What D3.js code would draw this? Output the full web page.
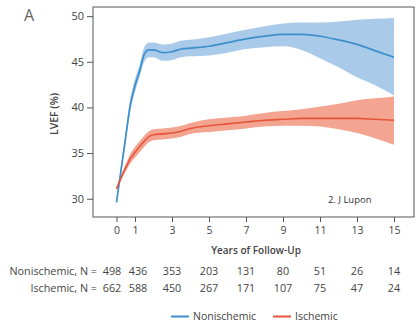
<!DOCTYPE html>
<html>
<head>
<meta charset="utf-8">
<script src="https://cdn.jsdelivr.net/npm/d3@7"></script>
<style>
  html, body { margin: 0; padding: 0; background: #fff; }
  svg { display: block; font-family: "Open Sans", "Noto Sans", sans-serif; }
</style>
</head>
<body>
<svg id="chart" width="418" height="324"></svg>
<script>
// Follow-up years at which the LVEF trajectories are sampled
const years = [0, 0.25, 0.5, 0.75, 1, 1.25, 1.5, 1.75, 2, 2.5, 3, 3.5, 4, 5, 6, 7, 8, 9, 10, 11, 12, 13, 14, 15];

// Nonischemic: mean LVEF and 95% CI bounds
const nonMean  = [29.6, 33.2, 36.8, 40.3, 42.4, 44.0, 45.8, 46.3, 46.3, 46.0, 46.1, 46.4, 46.5, 46.7, 47.1, 47.5, 47.8, 48.0, 48.0, 47.8, 47.4, 46.9, 46.2, 45.5];
const nonUpper = [29.8, 33.6, 37.4, 41.0, 43.1, 44.7, 46.6, 47.1, 47.1, 46.9, 47.0, 47.3, 47.4, 47.7, 48.1, 48.5, 48.9, 49.2, 49.3, 49.3, 49.4, 49.6, 49.7, 49.8];
const nonLower = [29.4, 32.8, 36.2, 39.6, 41.7, 43.3, 45.0, 45.5, 45.5, 45.1, 45.2, 45.5, 45.6, 45.7, 46.0, 46.4, 46.6, 46.7, 46.3, 45.4, 44.4, 43.3, 42.4, 41.3];

// Ischemic: mean LVEF and 95% CI bounds
const ischMean  = [31.1, 32.3, 33.4, 34.4, 35.1, 35.7, 36.3, 36.8, 37.0, 37.1, 37.2, 37.4, 37.7, 38.0, 38.2, 38.4, 38.6, 38.7, 38.8, 38.8, 38.8, 38.8, 38.7, 38.6];
const ischUpper = [31.3, 32.6, 33.8, 34.9, 35.7, 36.3, 36.9, 37.4, 37.6, 37.7, 37.8, 38.0, 38.3, 38.7, 38.9, 39.1, 39.4, 39.6, 39.8, 40.1, 40.4, 40.8, 41.0, 41.2];
const ischLower = [30.9, 32.0, 33.0, 33.9, 34.5, 35.1, 35.7, 36.2, 36.4, 36.5, 36.6, 36.8, 37.1, 37.3, 37.5, 37.7, 37.9, 38.0, 38.0, 37.9, 37.6, 37.2, 36.6, 35.9];

// Axis ticks
const xTicks = [0, 1, 3, 5, 7, 9, 11, 13, 15];
const yTicks = [30, 35, 40, 45, 50];

// Numbers at risk at each x tick
const nonAtRisk  = [498, 436, 353, 203, 131, 80, 51, 26, 14];
const ischAtRisk = [662, 588, 450, 267, 171, 107, 75, 47, 24];

// Series names and colours
const seriesNames = ["Nonischemic", "Ischemic"];
const lineColors = ["#3d8fcb", "#e6553b"];
const bandColors = ["#a9cbe9", "#f3a591"];

const svg = d3.select("#chart");
const plot = { left: 93, right: 414, top: 7, bottom: 217 };

const x = d3.scaleLinear().domain([-1.27, 16.08]).range([plot.left, plot.right]);
const y = d3.scaleLinear().domain([28, 51]).range([plot.bottom, plot.top]);

const curve = d3.curveMonotoneX;

function band(upper, lower) {
  return d3.area()
    .x((d, i) => x(years[i]))
    .y0((d, i) => y(lower[i]))
    .y1((d, i) => y(upper[i]))
    .curve(curve)(years);
}
function line(vals) {
  return d3.line()
    .x((d, i) => x(years[i]))
    .y((d, i) => y(vals[i]))
    .curve(curve)(years);
}

// Confidence bands
svg.append("path").attr("d", band(nonUpper, nonLower)).attr("fill", bandColors[0]);
svg.append("path").attr("d", band(ischUpper, ischLower)).attr("fill", bandColors[1]);

// Mean trajectories
svg.append("path").attr("d", line(nonMean)).attr("fill", "none")
  .attr("stroke", lineColors[0]).attr("stroke-width", 1.7);
svg.append("path").attr("d", line(ischMean)).attr("fill", "none")
  .attr("stroke", lineColors[1]).attr("stroke-width", 1.6);

// Frame
svg.append("rect")
  .attr("x", plot.left).attr("y", plot.top)
  .attr("width", plot.right - plot.left).attr("height", plot.bottom - plot.top)
  .attr("fill", "none").attr("stroke", "#555").attr("stroke-width", 1);

const textColor = "#444";

// Y axis
const yAxis = svg.append("g")
  .attr("transform", `translate(${plot.left},0)`)
  .call(d3.axisLeft(y).tickValues(yTicks).tickSize(6).tickPadding(3));
yAxis.select(".domain").remove();
yAxis.selectAll("line").attr("stroke", "#555");
yAxis.selectAll("text").attr("fill", textColor).style("font-size", "11px")
  .style("font-family", "'Open Sans', sans-serif");

// X axis
const xAxis = svg.append("g")
  .attr("transform", `translate(0,${plot.bottom})`)
  .call(d3.axisBottom(x).tickValues(xTicks).tickSize(5).tickPadding(5));
xAxis.select(".domain").remove();
xAxis.selectAll("line").attr("stroke", "#555");
xAxis.selectAll("text").attr("fill", textColor).style("font-size", "10.5px")
  .style("font-family", "'Open Sans', sans-serif");

// Axis titles
svg.append("text")
  .attr("transform", `translate(58,${(plot.top + plot.bottom) / 2 + 2}) rotate(-90)`)
  .attr("text-anchor", "middle")
  .attr("fill", textColor).style("font-size", "10.5px").style("font-weight", 600)
  .text("LVEF (%)");

svg.append("text")
  .attr("x", 256).attr("y", 254)
  .attr("text-anchor", "middle")
  .attr("fill", textColor).style("font-size", "10px").style("font-weight", 600)
  .text("Years of Follow-Up");

// Panel letter
svg.append("text")
  .attr("x", 24).attr("y", 21)
  .attr("fill", "#666").style("font-size", "16px")
  .text("A");

// Credit inside the plot
svg.append("text")
  .attr("x", 328).attr("y", 203)
  .attr("fill", "#333").style("font-size", "9.5px")
  .text("2. J Lupon");

// Numbers at risk
const riskOffsets = [-4.5, 3, 0, 0, 0, 0, 0, 0, 0];
const riskRows = [
  { label: "Nonischemic, N =", values: nonAtRisk, y: 275 },
  { label: "Ischemic, N =", values: ischAtRisk, y: 292 }
];
riskRows.forEach(row => {
  svg.append("text")
    .attr("x", 97).attr("y", row.y)
    .attr("text-anchor", "end")
    .attr("fill", textColor).style("font-size", "10.8px")
    .text(row.label);
  svg.selectAll(null).data(row.values).enter().append("text")
    .attr("x", (d, i) => x(xTicks[i]) + riskOffsets[i])
    .attr("y", row.y)
    .attr("text-anchor", "middle")
    .attr("fill", textColor).style("font-size", "10.8px")
    .text(d => d);
});

// Legend
const legendItems = [
  { name: seriesNames[0], color: lineColors[0], x: 171 },
  { name: seriesNames[1], color: lineColors[1], x: 273 }
];
legendItems.forEach(item => {
  svg.append("line")
    .attr("x1", item.x).attr("x2", item.x + 18)
    .attr("y1", 316.5).attr("y2", 316.5)
    .attr("stroke", item.color).attr("stroke-width", 2);
  svg.append("text")
    .attr("x", item.x + 22).attr("y", 320)
    .attr("fill", textColor).style("font-size", "10.5px")
    .text(item.name);
});
</script>
</body>
</html>
